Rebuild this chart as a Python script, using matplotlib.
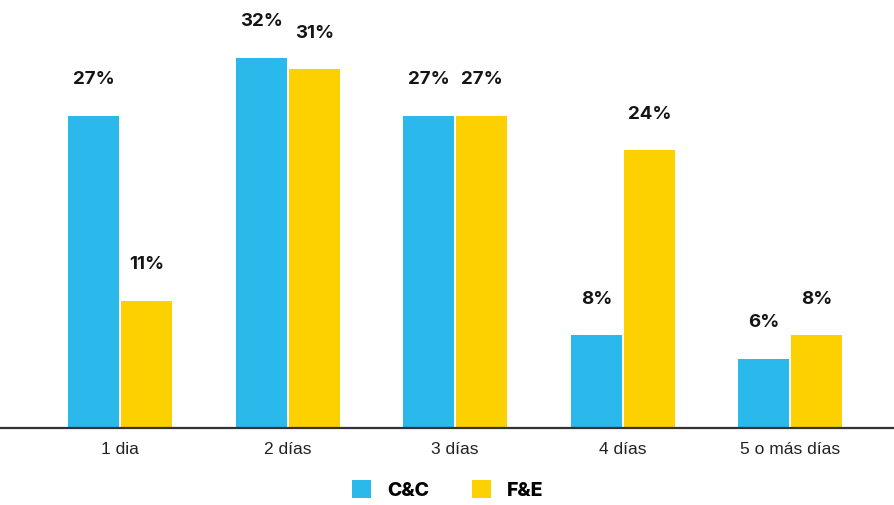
import matplotlib.pyplot as plt
import numpy as np

categories = ['1 dia', '2 días', '3 días', '4 días', '5 o más días']
cc_values = [27, 32, 27, 8, 6]
fe_values = [11, 31, 27, 24, 8]
series_names = ['C&C', 'F&E']

blue = '#2BB8EA'
yellow = '#FDD000'

plt.rcParams['font.family'] = ['Liberation Sans', 'DejaVu Sans']

fig = plt.figure(figsize=(8.95, 5.05), dpi=100)
ax = fig.add_axes([0, 0.1525, 1, 0.8475])

x = np.arange(len(categories))
w = 0.305
b1 = ax.bar(x - 0.156, cc_values, w, color=blue, label=series_names[0])
b2 = ax.bar(x + 0.160, fe_values, w, color=yellow, label=series_names[1])

# percentage labels above each bar
for bars, vals in [(b1, cc_values), (b2, fe_values)]:
    for bar, val in zip(bars, vals):
        ax.annotate(f'{val}%', (bar.get_x() + bar.get_width() / 2, bar.get_height()),
                    xytext=(0, 20), textcoords='offset points',
                    ha='center', va='bottom', fontsize=13.5, fontweight='bold',
                    family=['Inter', 'DejaVu Sans'], color='#151515')

ax.set_xlim(-0.716, 4.627)
ax.set_ylim(0, 37)
ax.set_xticks(x)
ax.set_xticklabels(categories, fontsize=12.5, color='#222222')
ax.tick_params(axis='x', length=0, pad=10)
ax.set_yticks([])
for s in ['top', 'right', 'left']:
    ax.spines[s].set_visible(False)
ax.spines['bottom'].set_color('#333333')
ax.spines['bottom'].set_linewidth(1.6)

leg = fig.legend(loc='center', bbox_to_anchor=(0.5, 0.03), ncol=2, frameon=False,
                 prop={'weight': 'heavy', 'size': 14, 'family': ['Inter', 'DejaVu Sans']},
                 handlelength=1.0, handleheight=1.0, columnspacing=2.2, handletextpad=0.8)

fig.savefig('out.png', dpi=100)
